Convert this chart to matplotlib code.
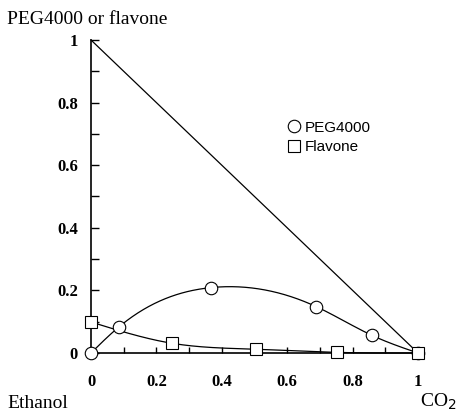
import numpy as np
import matplotlib
matplotlib.use("Agg")
import matplotlib.pyplot as plt
from matplotlib.lines import Line2D

# data
peg_x = [0.0, 0.085, 0.368, 0.689, 0.86, 1.0]
peg_y = [0.0, 0.083, 0.209, 0.148, 0.056, 0.0]
fla_x = [0.0, 0.248, 0.504, 0.751, 1.0]
fla_y = [0.099, 0.031, 0.012, 0.002, 0.0]
xticks = [0, 0.2, 0.4, 0.6, 0.8, 1]
yticks = [0, 0.2, 0.4, 0.6, 0.8, 1]


def natural_spline(x, y, n=300):
    x = np.asarray(x, float)
    y = np.asarray(y, float)
    m = len(x)
    h = np.diff(x)
    A = np.zeros((m, m))
    b = np.zeros(m)
    A[0, 0] = 1
    A[-1, -1] = 1
    for i in range(1, m - 1):
        A[i, i - 1] = h[i - 1]
        A[i, i] = 2 * (h[i - 1] + h[i])
        A[i, i + 1] = h[i]
        b[i] = 6 * ((y[i + 1] - y[i]) / h[i] - (y[i] - y[i - 1]) / h[i - 1])
    M = np.linalg.solve(A, b)
    xs = np.linspace(x[0], x[-1], n)
    ys = np.empty_like(xs)
    for k, t in enumerate(xs):
        i = min(np.searchsorted(x, t, side="right") - 1, m - 2)
        dx0 = t - x[i]
        dx1 = x[i + 1] - t
        ys[k] = (M[i] * dx1 ** 3 / (6 * h[i]) + M[i + 1] * dx0 ** 3 / (6 * h[i])
                 + (y[i] / h[i] - M[i] * h[i] / 6) * dx1
                 + (y[i + 1] / h[i] - M[i + 1] * h[i] / 6) * dx0)
    return xs, ys


W, H = 461, 416
fig = plt.figure(figsize=(W / 100, H / 100), dpi=100)
ax = fig.add_axes([91 / W, (H - 353) / H, 327 / W, 313 / H])
ax.set_xlim(0, 1)
ax.set_ylim(0, 1)

serif = "Liberation Serif"
sans = "Liberation Sans"

# triangle diagonal
ax.plot([0, 1], [1, 0], color="black", lw=0.9, clip_on=False)

sx, sy = natural_spline(peg_x, peg_y)
ax.plot(sx, sy, color="black", lw=0.9, clip_on=False)
fx, fy = natural_spline(fla_x, fla_y)
ax.plot(fx, fy, color="black", lw=0.9, clip_on=False)

ax.plot(peg_x, peg_y, linestyle="none", marker="o", ms=9, mfc="white",
        mec="black", mew=0.8, clip_on=False, zorder=5)
ax.plot(fla_x, fla_y, linestyle="none", marker="s", ms=9, mfc="white",
        mec="black", mew=0.8, clip_on=False, zorder=5)

for s in ["top", "right"]:
    ax.spines[s].set_visible(False)
for s in ["left", "bottom"]:
    ax.spines[s].set_linewidth(1.2)

ax.set_xticks(xticks)
ax.set_yticks(yticks)
ax.set_xticks(np.arange(0.1, 1.0, 0.2), minor=True)
ax.set_yticks(np.arange(0.1, 1.0, 0.2), minor=True)
ax.set_xticklabels([f"{v:g}" for v in xticks], fontfamily=serif,
                   fontweight="bold", fontsize=12)
ax.set_yticklabels([f"{v:g}" for v in yticks], fontfamily=serif,
                   fontweight="bold", fontsize=12)
ax.tick_params(axis="y", which="both", direction="in", length=6, width=1,
               pad=9.5)
ax.tick_params(axis="x", which="both", direction="in", length=4, width=1,
               pad=15)

fig.text(7 / W, 1 - 19 / H, "PEG4000 or flavone", fontfamily=serif,
         fontsize=14, va="center", ha="left")
fig.text(7 / W, 1 - 404 / H, "Ethanol", fontfamily=serif, fontsize=14,
         va="center", ha="left")
fig.text(420 / W, 1 - 402 / H, "CO$_2$", fontfamily=serif, fontsize=14,
         va="center", ha="left")

handles = [Line2D([], [], linestyle="none", marker="o", ms=9, mfc="white",
                  mec="black", mew=0.8),
           Line2D([], [], linestyle="none", marker="s", ms=9, mfc="white",
                  mec="black", mew=0.8)]
leg = ax.legend(handles, ["PEG4000", "Flavone"], frameon=False,
                loc="upper left", bbox_to_anchor=((280 - 91) / 327, (353 - 113) / 313),
                prop={"family": sans, "size": 11}, handlelength=0.8,
                handletextpad=0.3, labelspacing=0.35, borderpad=0)

fig.savefig("out.png", dpi=100)
